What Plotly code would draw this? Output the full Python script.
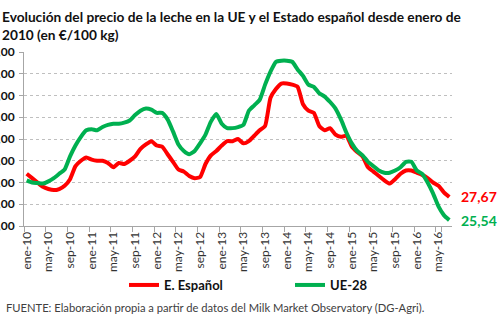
import plotly.graph_objects as go

meses = ["ene", "feb", "mar", "abr", "may", "jun", "jul", "ago", "sep", "oct", "nov", "dic"]
anios = ["10", "11", "12", "13", "14", "15", "16"]
categorias = [f"{m}-{a}" for a in anios for m in meses][:79]  # ene-10 .. jul-16

espanol = [29.8, 29.4, 29.0, 28.6, 28.4, 28.3, 28.4, 28.7, 29.3, 30.5, 31.0, 31.3,
           31.1, 31.0, 31.0, 30.8, 30.4, 30.8, 30.7, 31.0, 31.4, 32.1, 32.5, 32.8,
           32.4, 32.3, 31.6, 30.9, 30.2, 30.0, 29.6, 29.4, 29.5, 30.7, 31.5, 31.9,
           32.4, 32.8, 32.8, 33.0, 32.6, 32.8, 33.3, 33.8, 34.2, 36.8, 37.6, 38.1,
           38.1, 38.0, 37.8, 36.2, 35.6, 35.4, 34.2, 33.8, 34.0, 33.4, 33.2, 33.3,
           32.3, 31.8, 31.4, 30.4, 30.0, 29.6, 29.2, 28.9, 29.3, 29.8, 30.1, 30.1,
           29.9, 29.7, 29.4, 29.0, 28.7, 28.1, 27.67]
ue28 = [29.2, 29.0, 28.95, 28.9, 29.1, 29.4, 29.8, 30.2, 31.4, 32.4, 33.2, 33.8,
        33.9, 33.8, 34.1, 34.3, 34.4, 34.4, 34.5, 34.7, 35.2, 35.6, 35.8, 35.7,
        35.4, 35.4, 34.8, 33.7, 32.5, 31.9, 31.6, 31.9, 32.6, 33.4, 34.6, 35.3,
        34.4, 34.0, 34.0, 34.1, 34.3, 35.6, 36.1, 36.6, 38.0, 39.2, 40.1, 40.2,
        40.2, 40.1, 39.4, 38.8, 38.0, 37.8, 37.2, 36.9, 36.4, 35.8, 34.8, 33.6,
        32.6, 31.9, 31.5, 30.9, 30.5, 30.1, 29.9, 29.9, 30.1, 30.4, 30.9, 30.9,
        30.1, 29.8, 29.0, 28.0, 26.8, 26.0, 25.54]

y_ticks = [25, 27, 29, 31, 33, 35, 37, 39, 41]
y_ticktext = ["25,00", "27,00", "29,00", "31,00", "33,00", "35,00", "37,00", "39,00", "41,00"]
x_tickvals = categorias[::4]

ROJO = "#FF0000"
VERDE = "#00B050"
FONT = "Lato"

fig = go.Figure()
fig.add_trace(go.Scatter(x=categorias, y=espanol, mode="lines", name="E. Español", legend="legend",
                         line=dict(color=ROJO, width=4, shape="spline", smoothing=0.5)))
fig.add_trace(go.Scatter(x=categorias, y=ue28, mode="lines", name="UE-28", legend="legend2",
                         line=dict(color=VERDE, width=4, shape="spline", smoothing=0.5)))

# end labels
fig.add_annotation(x=categorias[-1], y=espanol[-1], text="<b>27,67</b>", showarrow=False,
                   xanchor="left", xshift=10, font=dict(family=FONT, size=14, color=ROJO))
fig.add_annotation(x=categorias[-1], y=ue28[-1], text="<b>25,54</b>", showarrow=False,
                   xanchor="left", xshift=10, font=dict(family=FONT, size=14, color=VERDE))

L, R, T, B = 24, 452, 52, 226
PW, PH = R - L, B - T
def px(x):
    return (x - L) / PW
def py(y):
    return (B - y) / PH

# title
fig.add_annotation(xref="paper", yref="paper", x=px(0), y=py(6), xanchor="left", yanchor="top",
                   align="left", showarrow=False,
                   text="<b>Evolución del precio de la leche en la UE y el Estado español desde enero de<br>2010 (en €/100 kg)</b>",
                   font=dict(family=FONT, size=13.7, color="#111111"))
# source
fig.add_annotation(xref="paper", yref="paper", x=px(4), y=py(307), xanchor="left", yanchor="middle",
                   showarrow=False,
                   text="FUENTE: Elaboración propia a partir de datos del Milk Market Observatory (DG-Agri).",
                   font=dict(family=FONT, size=11.2, color="#404040"))

leg_common = dict(orientation="h", yanchor="middle", bgcolor="rgba(0,0,0,0)", itemwidth=30,
                  font=dict(family=FONT, size=13, color="#111111", weight="bold"))

fig.update_layout(
    width=500, height=330,
    margin=dict(l=L, r=500 - R, t=T, b=330 - B),
    paper_bgcolor="white", plot_bgcolor="white",
    font=dict(family=FONT, color="#222222"),
    showlegend=True,
    legend=dict(x=px(124), y=py(285), xanchor="left", **leg_common),
    legend2=dict(x=px(290), y=py(285), xanchor="left", **leg_common),
    xaxis=dict(type="category", categoryorder="array", categoryarray=categorias,
               tickmode="array", tickvals=x_tickvals, tickson="boundaries",
               ticks="outside", ticklen=5, tickcolor="#A6A6A6", tickangle=-90,
               tickfont=dict(family=FONT, size=12, color="#333333"),
               showline=True, linecolor="#A6A6A6", linewidth=1, showgrid=False,
               range=[-0.5, 78.5], automargin=False, fixedrange=True),
    yaxis=dict(range=[25, 41], tickmode="array", tickvals=y_ticks, ticktext=y_ticktext,
               ticks="outside", ticklen=4, tickcolor="#A6A6A6",
               tickfont=dict(family=FONT, size=12, color="#111111", weight="bold"),
               showline=True, linecolor="#A6A6A6", linewidth=1,
               showgrid=True, gridcolor="#BFBFBF", griddash="dot", gridwidth=1,
               zeroline=False, automargin=False, ticklabelstandoff=2),
)

fig.write_html("out.html")
